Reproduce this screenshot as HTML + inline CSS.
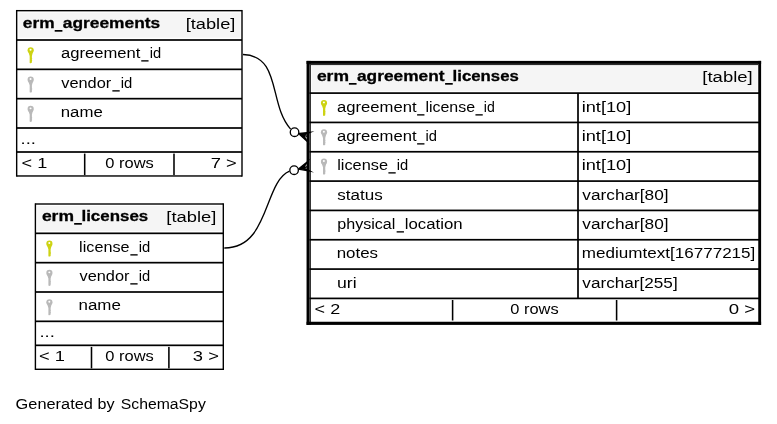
<!DOCTYPE html>
<html><head><meta charset="utf-8"><title>erm_agreement_licenses</title>
<style>
html,body{margin:0;padding:0;background:#fff;}
svg{display:block;will-change:transform;}
text{font-family:"Liberation Sans",sans-serif;font-size:15.3px;fill:#000;}
</style></head>
<body>
<svg width="777" height="424" viewBox="0 0 777 424">
<rect width="777" height="424" fill="#fff"/>
<rect x="18.47" y="12.67" width="221.93" height="25.03" fill="#f5f5f5"/>
<rect x="15.97" y="9.97" width="1.40" height="166.70" fill="#000"/>
<rect x="241.30" y="9.97" width="1.40" height="166.70" fill="#000"/>
<rect x="16.67" y="9.97" width="225.33" height="1.40" fill="#000"/>
<rect x="16.67" y="175.27" width="225.33" height="1.40" fill="#000"/>
<rect x="16.67" y="39.15" width="225.33" height="1.70" fill="#000"/>
<rect x="16.67" y="68.49" width="225.33" height="1.70" fill="#000"/>
<rect x="16.67" y="97.82" width="225.33" height="1.70" fill="#000"/>
<rect x="16.67" y="127.15" width="225.33" height="1.70" fill="#000"/>
<rect x="16.67" y="151.15" width="225.33" height="1.70" fill="#000"/>
<rect x="83.92" y="153.60" width="1.55" height="21.47" fill="#000"/>
<rect x="173.22" y="153.60" width="1.55" height="21.47" fill="#000"/>
<rect x="54.70" y="30.00" width="7.70" height="1.7" fill="#000"/>
<rect x="141.25" y="60.20" width="7.30" height="1.35" fill="#000"/>
<g fill="#cdd313"><circle cx="30.67" cy="50.30" r="3.1"/><path d="M28.47,52.30 L32.87,52.30 L31.92,55.90 L31.92,58.30 l0.4,0.5 l-0.4,0.5 v0.6 l0.4,0.5 l-0.4,0.5 L31.92,62.60 Q30.77,63.70 29.67,62.90 L29.67,55.90 Z"/></g><ellipse cx="30.57" cy="49.70" rx="1.0" ry="0.95" fill="#fff"/>
<rect x="112.35" y="90.20" width="7.35" height="1.35" fill="#000"/>
<g fill="#b9b9b9"><circle cx="30.67" cy="79.64" r="3.1"/><path d="M28.47,81.64 L32.87,81.64 L31.92,85.24 L31.92,87.64 l0.4,0.5 l-0.4,0.5 v0.6 l0.4,0.5 l-0.4,0.5 L31.92,91.94 Q30.77,93.04 29.67,92.24 L29.67,85.24 Z"/></g><ellipse cx="30.57" cy="79.04" rx="1.0" ry="0.95" fill="#fff"/>
<g fill="#b9b9b9"><circle cx="30.67" cy="108.97" r="3.1"/><path d="M28.47,110.97 L32.87,110.97 L31.92,114.57 L31.92,116.97 l0.4,0.5 l-0.4,0.5 v0.6 l0.4,0.5 l-0.4,0.5 L31.92,121.27 Q30.77,122.37 29.67,121.57 L29.67,114.57 Z"/></g><ellipse cx="30.57" cy="108.37" rx="1.0" ry="0.95" fill="#fff"/>
<rect x="37.20" y="206.00" width="184.50" height="25.03" fill="#f5f5f5"/>
<rect x="34.70" y="203.30" width="1.40" height="166.70" fill="#000"/>
<rect x="222.60" y="203.30" width="1.40" height="166.70" fill="#000"/>
<rect x="35.40" y="203.30" width="187.90" height="1.40" fill="#000"/>
<rect x="35.40" y="368.60" width="187.90" height="1.40" fill="#000"/>
<rect x="35.40" y="232.48" width="187.90" height="1.70" fill="#000"/>
<rect x="35.40" y="261.82" width="187.90" height="1.70" fill="#000"/>
<rect x="35.40" y="291.15" width="187.90" height="1.70" fill="#000"/>
<rect x="35.40" y="320.48" width="187.90" height="1.70" fill="#000"/>
<rect x="35.40" y="344.48" width="187.90" height="1.70" fill="#000"/>
<rect x="90.72" y="346.93" width="1.55" height="21.47" fill="#000"/>
<rect x="168.12" y="346.93" width="1.55" height="21.47" fill="#000"/>
<rect x="74.15" y="223.00" width="7.70" height="1.7" fill="#000"/>
<rect x="130.35" y="254.20" width="7.30" height="1.35" fill="#000"/>
<g fill="#cdd313"><circle cx="49.40" cy="243.63" r="3.1"/><path d="M47.20,245.63 L51.60,245.63 L50.65,249.23 L50.65,251.63 l0.4,0.5 l-0.4,0.5 v0.6 l0.4,0.5 l-0.4,0.5 L50.65,255.93 Q49.50,257.03 48.40,256.23 L48.40,249.23 Z"/></g><ellipse cx="49.30" cy="243.03" rx="1.0" ry="0.95" fill="#fff"/>
<rect x="130.30" y="283.20" width="7.30" height="1.35" fill="#000"/>
<g fill="#b9b9b9"><circle cx="49.40" cy="272.97" r="3.1"/><path d="M47.20,274.97 L51.60,274.97 L50.65,278.57 L50.65,280.97 l0.4,0.5 l-0.4,0.5 v0.6 l0.4,0.5 l-0.4,0.5 L50.65,285.27 Q49.50,286.37 48.40,285.57 L48.40,278.57 Z"/></g><ellipse cx="49.30" cy="272.37" rx="1.0" ry="0.95" fill="#fff"/>
<g fill="#b9b9b9"><circle cx="49.40" cy="302.30" r="3.1"/><path d="M47.20,304.30 L51.60,304.30 L50.65,307.90 L50.65,310.30 l0.4,0.5 l-0.4,0.5 v0.6 l0.4,0.5 l-0.4,0.5 L50.65,314.60 Q49.50,315.70 48.40,314.90 L48.40,307.90 Z"/></g><ellipse cx="49.30" cy="301.70" rx="1.0" ry="0.95" fill="#fff"/>
<rect x="311.6" y="65.5" width="446.00" height="25.60" fill="#f5f5f5"/>
<rect x="306.55" y="60.90" width="2.65" height="264.00" fill="#000"/>
<rect x="309.2" y="60.90" width="1.75" height="264.00" fill="#2c2c2c"/>
<rect x="758.25" y="60.90" width="2.85" height="264.00" fill="#000"/>
<rect x="306.55" y="60.90" width="454.55" height="3.0" fill="#000"/>
<rect x="309.2" y="63.90" width="449.05" height="1.2" fill="#2c2c2c"/>
<rect x="306.55" y="321.75" width="454.55" height="3.15" fill="#000"/>
<rect x="309.50" y="92.25" width="449.60" height="1.70" fill="#000"/>
<rect x="309.50" y="121.58" width="449.60" height="1.70" fill="#000"/>
<rect x="309.50" y="150.91" width="449.60" height="1.70" fill="#000"/>
<rect x="309.50" y="180.24" width="449.60" height="1.70" fill="#000"/>
<rect x="309.50" y="209.57" width="449.60" height="1.70" fill="#000"/>
<rect x="309.50" y="238.90" width="449.60" height="1.70" fill="#000"/>
<rect x="309.50" y="268.23" width="449.60" height="1.70" fill="#000"/>
<rect x="309.50" y="297.56" width="449.60" height="1.70" fill="#000"/>
<rect x="577.15" y="93.10" width="1.70" height="205.31" fill="#000"/>
<rect x="451.83" y="300.01" width="1.55" height="20.49" fill="#000"/>
<rect x="615.83" y="300.01" width="1.55" height="20.49" fill="#000"/>
<rect x="348.90" y="83.00" width="7.65" height="1.7" fill="#000"/>
<rect x="445.10" y="83.00" width="7.65" height="1.7" fill="#000"/>
<rect x="417.10" y="114.20" width="7.35" height="1.35" fill="#000"/>
<rect x="475.45" y="114.20" width="7.30" height="1.35" fill="#000"/>
<g fill="#cdd313"><circle cx="324.00" cy="103.00" r="3.1"/><path d="M321.80,105.00 L326.20,105.00 L325.25,108.60 L325.25,111.00 l0.4,0.5 l-0.4,0.5 v0.6 l0.4,0.5 l-0.4,0.5 L325.25,115.30 Q324.10,116.40 323.00,115.60 L323.00,108.60 Z"/></g><ellipse cx="323.90" cy="102.40" rx="1.0" ry="0.95" fill="#fff"/>
<rect x="417.10" y="143.20" width="7.35" height="1.35" fill="#000"/>
<g fill="#b9b9b9"><circle cx="324.00" cy="132.33" r="3.1"/><path d="M321.80,134.33 L326.20,134.33 L325.25,137.93 L325.25,140.33 l0.4,0.5 l-0.4,0.5 v0.6 l0.4,0.5 l-0.4,0.5 L325.25,144.63 Q324.10,145.73 323.00,144.93 L323.00,137.93 Z"/></g><ellipse cx="323.90" cy="131.73" rx="1.0" ry="0.95" fill="#fff"/>
<rect x="388.40" y="172.20" width="7.30" height="1.35" fill="#000"/>
<g fill="#b9b9b9"><circle cx="324.00" cy="161.66" r="3.1"/><path d="M321.80,163.66 L326.20,163.66 L325.25,167.26 L325.25,169.66 l0.4,0.5 l-0.4,0.5 v0.6 l0.4,0.5 l-0.4,0.5 L325.25,173.96 Q324.10,175.06 323.00,174.26 L323.00,167.26 Z"/></g><ellipse cx="323.90" cy="161.06" rx="1.0" ry="0.95" fill="#fff"/>
<rect x="396.65" y="231.20" width="7.30" height="1.35" fill="#000"/>
<g fill="none" stroke="#000" stroke-width="1.33"><path d="M243.0,54.5 C281.4,55.61 268.51,104.63 290.6,129.1"/><path d="M224.3,248.0 C269.73,248.34 263.47,182.16 289.5,171.2"/></g>
<path d="M298.57,133.54 L307.19,141.46 L303.64,135.22 L308.70,136.90 L303.64,135.22 L310.21,132.34 Z" fill="#000" stroke="#000" stroke-width="1.33" stroke-linejoin="miter" stroke-miterlimit="10"/>
<circle cx="294.55" cy="132.20" r="4.27" fill="#fff" stroke="#000" stroke-width="1.33"/>
<path d="M298.37,169.09 L309.91,171.05 L303.54,167.74 L308.70,166.40 L303.54,167.74 L307.49,161.75 Z" fill="#000" stroke="#000" stroke-width="1.33" stroke-linejoin="miter" stroke-miterlimit="10"/>
<circle cx="294.10" cy="170.20" r="4.27" fill="#fff" stroke="#000" stroke-width="1.33"/>
<text id="t0" x="22.80" y="28.00" textLength="31.77" lengthAdjust="spacingAndGlyphs" font-weight="bold" font-size="16.2" stroke="#000" stroke-width="0.3">erm</text>
<text id="t1" x="62.80" y="28.00" textLength="97.38" lengthAdjust="spacingAndGlyphs" font-weight="bold" font-size="16.2" stroke="#000" stroke-width="0.3">agreements</text>
<text id="t2" x="185.70" y="29.00" textLength="49.66" lengthAdjust="spacingAndGlyphs">[table]</text>
<text id="t3" x="61.07" y="58.00" textLength="79.37" lengthAdjust="spacingAndGlyphs">agreement</text>
<text id="t4" x="149.68" y="58.00" textLength="11.42" lengthAdjust="spacingAndGlyphs">id</text>
<text id="t5" x="61.23" y="88.00" textLength="50.05" lengthAdjust="spacingAndGlyphs">vendor</text>
<text id="t6" x="120.81" y="88.00" textLength="11.52" lengthAdjust="spacingAndGlyphs">id</text>
<text id="t7" x="60.74" y="117.00" textLength="41.98" lengthAdjust="spacingAndGlyphs">name</text>
<text id="t8" x="20.61" y="144.00" textLength="15.31" lengthAdjust="spacingAndGlyphs">...</text>
<text id="t9" x="21.57" y="168.00" textLength="25.68" lengthAdjust="spacingAndGlyphs">&lt; 1</text>
<text id="t10" x="105.26" y="168.00" textLength="48.54" lengthAdjust="spacingAndGlyphs">0 rows</text>
<text id="t11" x="210.81" y="168.00" textLength="26.03" lengthAdjust="spacingAndGlyphs">7 &gt;</text>
<text id="t12" x="41.92" y="221.00" textLength="32.04" lengthAdjust="spacingAndGlyphs" font-weight="bold" font-size="16.2" stroke="#000" stroke-width="0.3">erm</text>
<text id="t13" x="81.47" y="221.00" textLength="66.75" lengthAdjust="spacingAndGlyphs" font-weight="bold" font-size="16.2" stroke="#000" stroke-width="0.3">licenses</text>
<text id="t14" x="166.37" y="222.00" textLength="49.96" lengthAdjust="spacingAndGlyphs">[table]</text>
<text id="t15" x="79.12" y="252.00" textLength="50.39" lengthAdjust="spacingAndGlyphs">license</text>
<text id="t16" x="138.83" y="252.00" textLength="11.49" lengthAdjust="spacingAndGlyphs">id</text>
<text id="t17" x="79.48" y="281.00" textLength="49.95" lengthAdjust="spacingAndGlyphs">vendor</text>
<text id="t18" x="138.68" y="281.00" textLength="11.42" lengthAdjust="spacingAndGlyphs">id</text>
<text id="t19" x="78.51" y="310.00" textLength="42.33" lengthAdjust="spacingAndGlyphs">name</text>
<text id="t20" x="39.47" y="337.00" textLength="15.40" lengthAdjust="spacingAndGlyphs">...</text>
<text id="t21" x="39.06" y="361.00" textLength="25.88" lengthAdjust="spacingAndGlyphs">&lt; 1</text>
<text id="t22" x="105.25" y="361.00" textLength="48.55" lengthAdjust="spacingAndGlyphs">0 rows</text>
<text id="t23" x="192.88" y="361.00" textLength="26.04" lengthAdjust="spacingAndGlyphs">3 &gt;</text>
<text id="t24" x="316.91" y="81.00" textLength="32.05" lengthAdjust="spacingAndGlyphs" font-weight="bold" font-size="16.2" stroke="#000" stroke-width="0.3">erm</text>
<text id="t25" x="356.98" y="81.00" textLength="87.53" lengthAdjust="spacingAndGlyphs" font-weight="bold" font-size="16.2" stroke="#000" stroke-width="0.3">agreement</text>
<text id="t26" x="452.62" y="81.00" textLength="66.29" lengthAdjust="spacingAndGlyphs" font-weight="bold" font-size="16.2" stroke="#000" stroke-width="0.3">licenses</text>
<text id="t27" x="702.36" y="82.00" textLength="50.28" lengthAdjust="spacingAndGlyphs">[table]</text>
<text id="t28" x="337.06" y="112.00" textLength="79.52" lengthAdjust="spacingAndGlyphs">agreement</text>
<text id="t29" x="425.41" y="112.00" textLength="49.65" lengthAdjust="spacingAndGlyphs">license</text>
<text id="t30" x="483.76" y="112.00" textLength="10.98" lengthAdjust="spacingAndGlyphs">id</text>
<text id="t31" x="581.68" y="112.00" textLength="49.55" lengthAdjust="spacingAndGlyphs">int[10]</text>
<text id="t32" x="337.06" y="141.00" textLength="79.52" lengthAdjust="spacingAndGlyphs">agreement</text>
<text id="t33" x="425.58" y="141.00" textLength="11.48" lengthAdjust="spacingAndGlyphs">id</text>
<text id="t34" x="581.68" y="141.00" textLength="49.55" lengthAdjust="spacingAndGlyphs">int[10]</text>
<text id="t35" x="337.18" y="170.00" textLength="50.84" lengthAdjust="spacingAndGlyphs">license</text>
<text id="t36" x="396.80" y="170.00" textLength="11.43" lengthAdjust="spacingAndGlyphs">id</text>
<text id="t37" x="581.68" y="170.00" textLength="49.55" lengthAdjust="spacingAndGlyphs">int[10]</text>
<text id="t38" x="337.30" y="200.00" textLength="45.39" lengthAdjust="spacingAndGlyphs">status</text>
<text id="t39" x="582.36" y="200.00" textLength="86.23" lengthAdjust="spacingAndGlyphs">varchar[80]</text>
<text id="t40" x="337.22" y="229.00" textLength="58.18" lengthAdjust="spacingAndGlyphs">physical</text>
<text id="t41" x="404.76" y="229.00" textLength="57.84" lengthAdjust="spacingAndGlyphs">location</text>
<text id="t42" x="582.36" y="229.00" textLength="86.23" lengthAdjust="spacingAndGlyphs">varchar[80]</text>
<text id="t43" x="336.71" y="258.00" textLength="41.37" lengthAdjust="spacingAndGlyphs">notes</text>
<text id="t44" x="581.74" y="258.00" textLength="173.61" lengthAdjust="spacingAndGlyphs">mediumtext[16777215]</text>
<text id="t45" x="336.97" y="288.00" textLength="19.60" lengthAdjust="spacingAndGlyphs">uri</text>
<text id="t46" x="582.36" y="288.00" textLength="95.30" lengthAdjust="spacingAndGlyphs">varchar[255]</text>
<text id="t47" x="314.63" y="314.00" textLength="25.54" lengthAdjust="spacingAndGlyphs">&lt; 2</text>
<text id="t48" x="510.26" y="314.00" textLength="48.38" lengthAdjust="spacingAndGlyphs">0 rows</text>
<text id="t49" x="728.71" y="314.00" textLength="26.40" lengthAdjust="spacingAndGlyphs">0 &gt;</text>
<text id="t50" x="15.62" y="409.00" textLength="77.28" lengthAdjust="spacingAndGlyphs">Generated</text>
<text id="t51" x="97.62" y="409.00" textLength="16.99" lengthAdjust="spacingAndGlyphs">by</text>
<text id="t52" x="120.73" y="409.00" textLength="85.06" lengthAdjust="spacingAndGlyphs">SchemaSpy</text>
</svg>
</body></html>
